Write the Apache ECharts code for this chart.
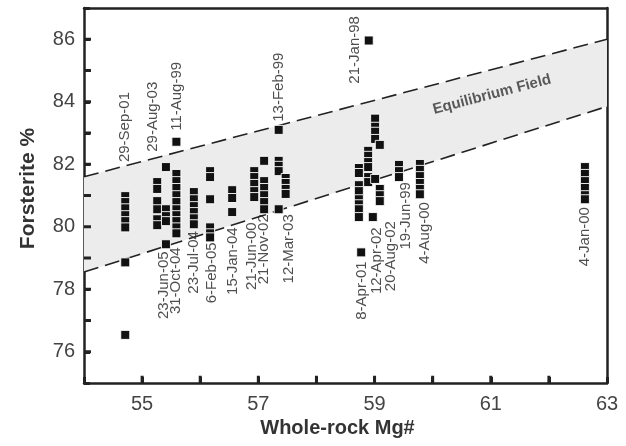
<!DOCTYPE html>
<html>
<head>
<meta charset="utf-8">
<script src="https://cdn.jsdelivr.net/npm/echarts@6/dist/echarts.min.js"></script>
<style>
  html, body { margin: 0; padding: 0; background: #fff; }
  #chart { width: 626px; height: 446px; }
</style>
</head>
<body>
<div id="chart"></div>
<script>
// whole-rock Mg# (x) and olivine forsterite % (y), one entry per analysis
var mgValues = [
    54.71, 54.71, 54.71, 54.71, 54.71, 54.71, 54.71, 54.71,
    55.26, 55.26, 55.26, 55.26, 55.26, 55.26,
    55.41, 55.41, 55.41, 55.41, 55.41,
    55.59, 55.59, 55.59, 55.59, 55.59, 55.59, 55.59, 55.59, 55.59, 55.59, 55.59,
    55.89, 55.89, 55.89, 55.89, 55.89, 55.89,
    56.17, 56.17, 56.17, 56.17, 56.17, 56.17,
    56.55, 56.55, 56.55,
    56.93, 56.93, 56.93, 56.93, 56.93,
    57.10, 57.10, 57.10, 57.10, 57.10, 57.10,
    57.35, 57.35, 57.35, 57.35, 57.35,
    57.47, 57.47, 57.47, 57.47,
    58.90,
    58.73, 58.73, 58.73, 58.73, 58.73, 58.73, 58.73, 58.73, 58.77,
    58.89, 58.89, 58.89, 58.89, 58.89, 58.89,
    59.01, 59.01, 59.01, 59.01, 59.01,
    59.09, 59.09, 59.09, 59.09,
    58.97,
    59.42, 59.42, 59.42,
    59.78, 59.78, 59.78, 59.78, 59.78, 59.78,
    62.62, 62.62, 62.62, 62.62, 62.62, 62.62
];
var foValues = [
    80.98, 80.79, 80.59, 80.37, 80.18, 79.98, 78.86, 76.54,
    81.43, 81.21, 80.82, 80.56, 80.24, 80.05,
    81.91, 80.56, 80.34, 80.18, 79.44,
    82.72, 81.69, 81.46, 81.24, 81.01, 80.79, 80.56, 80.37, 80.18, 79.98, 79.79,
    81.11, 80.88, 80.66, 80.47, 80.27, 80.08,
    81.78, 81.59, 80.88, 79.98, 79.79, 79.66,
    81.17, 80.92, 80.47,
    81.78, 81.59, 81.37, 81.14, 80.95,
    82.11, 81.46, 81.24, 81.01, 80.79, 80.56,
    83.10, 82.11, 81.95, 81.78, 80.56,
    81.56, 81.40, 81.21, 81.05,
    85.96,
    81.88, 81.72, 81.33, 81.14, 80.88, 80.72, 80.56, 80.31, 79.18,
    82.43, 82.27, 82.07, 81.91, 81.59, 81.43,
    83.46, 83.20, 83.04, 82.81, 81.53,
    82.62, 81.21, 81.01, 80.82,
    80.31,
    81.98, 81.78, 81.59,
    82.01, 81.82, 81.62, 81.40, 81.21, 81.04,
    81.91, 81.69, 81.46, 81.24, 81.01, 80.88
];

// equilibrium field limits
var bandX = [54, 63];
var bandLower = [78.55, 83.85];
var bandUpper = [81.6, 86.0];

// eruption dates written above the samples
var upperDates = ['29-Sep-01', '29-Aug-03', '11-Aug-99', '13-Feb-99', '21-Jan-98'];
var upperDateX = [54.71, 55.19, 55.60, 57.36, 58.66];
var upperDateY = [82.07, 82.40, 83.07, 83.36, 84.58];

// eruption dates written below the samples
var lowerDates = ['23-Jun-05', '31-Oct-04', '23-Jul-04', '6-Feb-05', '15-Jan-04', '21-Jun-00',
    '21-Nov-02', '12-Mar-03', '8-Apr-01', '12-Apr-02', '20-Aug-02', '19-Jun-99', '4-Aug-00', '4-Jan-00'];
var lowerDateX = [55.37, 55.58, 55.89, 56.20, 56.56, 56.89, 57.10, 57.52, 58.78, 59.04, 59.28, 59.54, 59.87, 62.62];
var lowerDateY = [79.21, 79.34, 79.86, 79.50, 79.98, 80.14, 80.40, 80.40, 78.89, 79.98, 80.18, 81.43, 80.79, 80.63];

var fieldLabel = ['Equilibrium Field'];
var fieldLabelX = [61.02];
var fieldLabelY = [84.23];

// tick positions on the frame
var xTicks = [55, 56, 57, 58, 59, 60, 61, 62];
var yTicks = [76, 77, 78, 79, 80, 81, 82, 83, 84, 85, 86];

var FONT = '"Liberation Sans", Arial, Helvetica, sans-serif';
var myChart = echarts.init(document.getElementById('chart'));

function zip(xs, ys, names) {
    return xs.map(function(x, i) {
        var d = { value: [x, ys[i]] };
        if (names) d.name = names[i];
        return d;
    });
}

var dateLabel = {
    show: true,
    formatter: '{b}',
    rotate: 90,
    fontFamily: FONT,
    fontSize: 15,
    color: '#222',
    position: 'inside',
    verticalAlign: 'middle'
};

var frameLine = { show: true, lineStyle: { color: '#222', width: 2.5 } };
var innerTick = { show: true, inside: true, length: 6, lineStyle: { color: '#222', width: 3 } };

// short solid segments standing in for the inward ticks (about 7px long)
function tickSeries(points) {
    return {
        type: 'line', silent: true, z: 6, symbol: 'none',
        data: points,
        lineStyle: { color: '#222', width: 3, type: 'solid', opacity: 1 }
    };
}
var tickLines = xTicks.map(function(v) { return tickSeries([[v, 75], [v, 75.23]]); })
    .concat(yTicks.map(function(v) { return tickSeries([[54, v], [54.12, v]]); }));

var option = {
    animation: false,
    grid: { left: 84, right: 19, top: 8, bottom: 63 },
    xAxis: [
        {
            type: 'value',
            min: 54, max: 63, interval: 1,
            name: 'Whole-rock Mg#',
            nameLocation: 'middle',
            nameGap: 35,
            nameTextStyle: { fontFamily: FONT, fontSize: 20, fontWeight: 'bold', color: '#333', padding: [0, 16, 0, 0] },
            axisLine: frameLine,
            axisTick: innerTick,
            axisLabel: {
                fontFamily: FONT, fontSize: 20, color: '#444', margin: 11,
                formatter: function(v) { return v % 2 === 1 ? String(v) : ''; }
            },
            splitLine: { show: false }
        },
        {
            type: 'value', position: 'top',
            min: 54, max: 63,
            axisLine: frameLine,
            axisTick: { show: false }, axisLabel: { show: false }, splitLine: { show: false }
        }
    ],
    yAxis: [
        {
            type: 'value',
            min: 75, max: 87, interval: 1,
            name: 'Forsterite %',
            nameLocation: 'middle',
            nameGap: 45,
            nameTextStyle: { fontFamily: FONT, fontSize: 21, fontWeight: 'bold', color: '#333', padding: [0, 0, 0, 14] },
            axisLine: frameLine,
            axisTick: innerTick,
            axisLabel: {
                fontFamily: FONT, fontSize: 20, color: '#444', margin: 9,
                formatter: function(v) { return v % 2 === 0 ? String(v) : ''; }
            },
            splitLine: { show: false }
        },
        {
            type: 'value', position: 'right',
            min: 75, max: 87,
            axisLine: frameLine,
            axisTick: { show: false }, axisLabel: { show: false }, splitLine: { show: false }
        }
    ],
    series: [
        {
            type: 'custom',
            silent: true,
            z: 1,
            data: bandX.map(function(x, i) { return [x, bandLower[i], bandUpper[i]]; }),
            encode: { x: 0, y: [1, 2] },
            renderItem: function(params, api) {
                if (params.dataIndex !== 0) return;
                var pts = [
                    api.coord([bandX[0], bandLower[0]]),
                    api.coord([bandX[1], bandLower[1]]),
                    api.coord([bandX[1], bandUpper[1]]),
                    api.coord([bandX[0], bandUpper[0]])
                ];
                return { type: 'polygon', shape: { points: pts }, style: { fill: '#ececec' } };
            }
        },
        {
            type: 'line', silent: true, z: 2, symbol: 'none',
            data: zip(bandX, bandUpper),
            lineStyle: { color: '#222', width: 1.6, type: [15, 7] }
        },
        {
            type: 'line', silent: true, z: 2, symbol: 'none',
            data: zip(bandX, bandLower),
            lineStyle: { color: '#222', width: 1.6, type: [15, 7] }
        },
        {
            type: 'scatter', z: 3,
            symbol: 'rect', symbolSize: 9,
            itemStyle: { color: '#111', borderColor: '#fff', borderWidth: 0.9, opacity: 1 },
            data: zip(mgValues, foValues)
        },
        {
            type: 'scatter', z: 4, silent: true,
            symbolSize: 1, itemStyle: { color: 'transparent' },
            data: zip(upperDateX, upperDateY, upperDates),
            label: Object.assign({}, dateLabel, { align: 'left' })
        },
        {
            type: 'scatter', z: 4, silent: true,
            symbolSize: 1, itemStyle: { color: 'transparent' },
            data: zip(lowerDateX, lowerDateY, lowerDates),
            label: Object.assign({}, dateLabel, { align: 'right' })
        },
        {
            type: 'scatter', z: 4, silent: true,
            symbolSize: 1, itemStyle: { color: 'transparent' },
            data: zip(fieldLabelX, fieldLabelY, fieldLabel),
            label: {
                show: true, formatter: '{b}', rotate: 14.7,
                position: 'inside', align: 'center', verticalAlign: 'middle',
                fontFamily: FONT, fontSize: 15, fontWeight: 'bold', color: '#333'
            }
        }
    ].concat(tickLines)
};

myChart.setOption(option);
</script>
</body>
</html>
